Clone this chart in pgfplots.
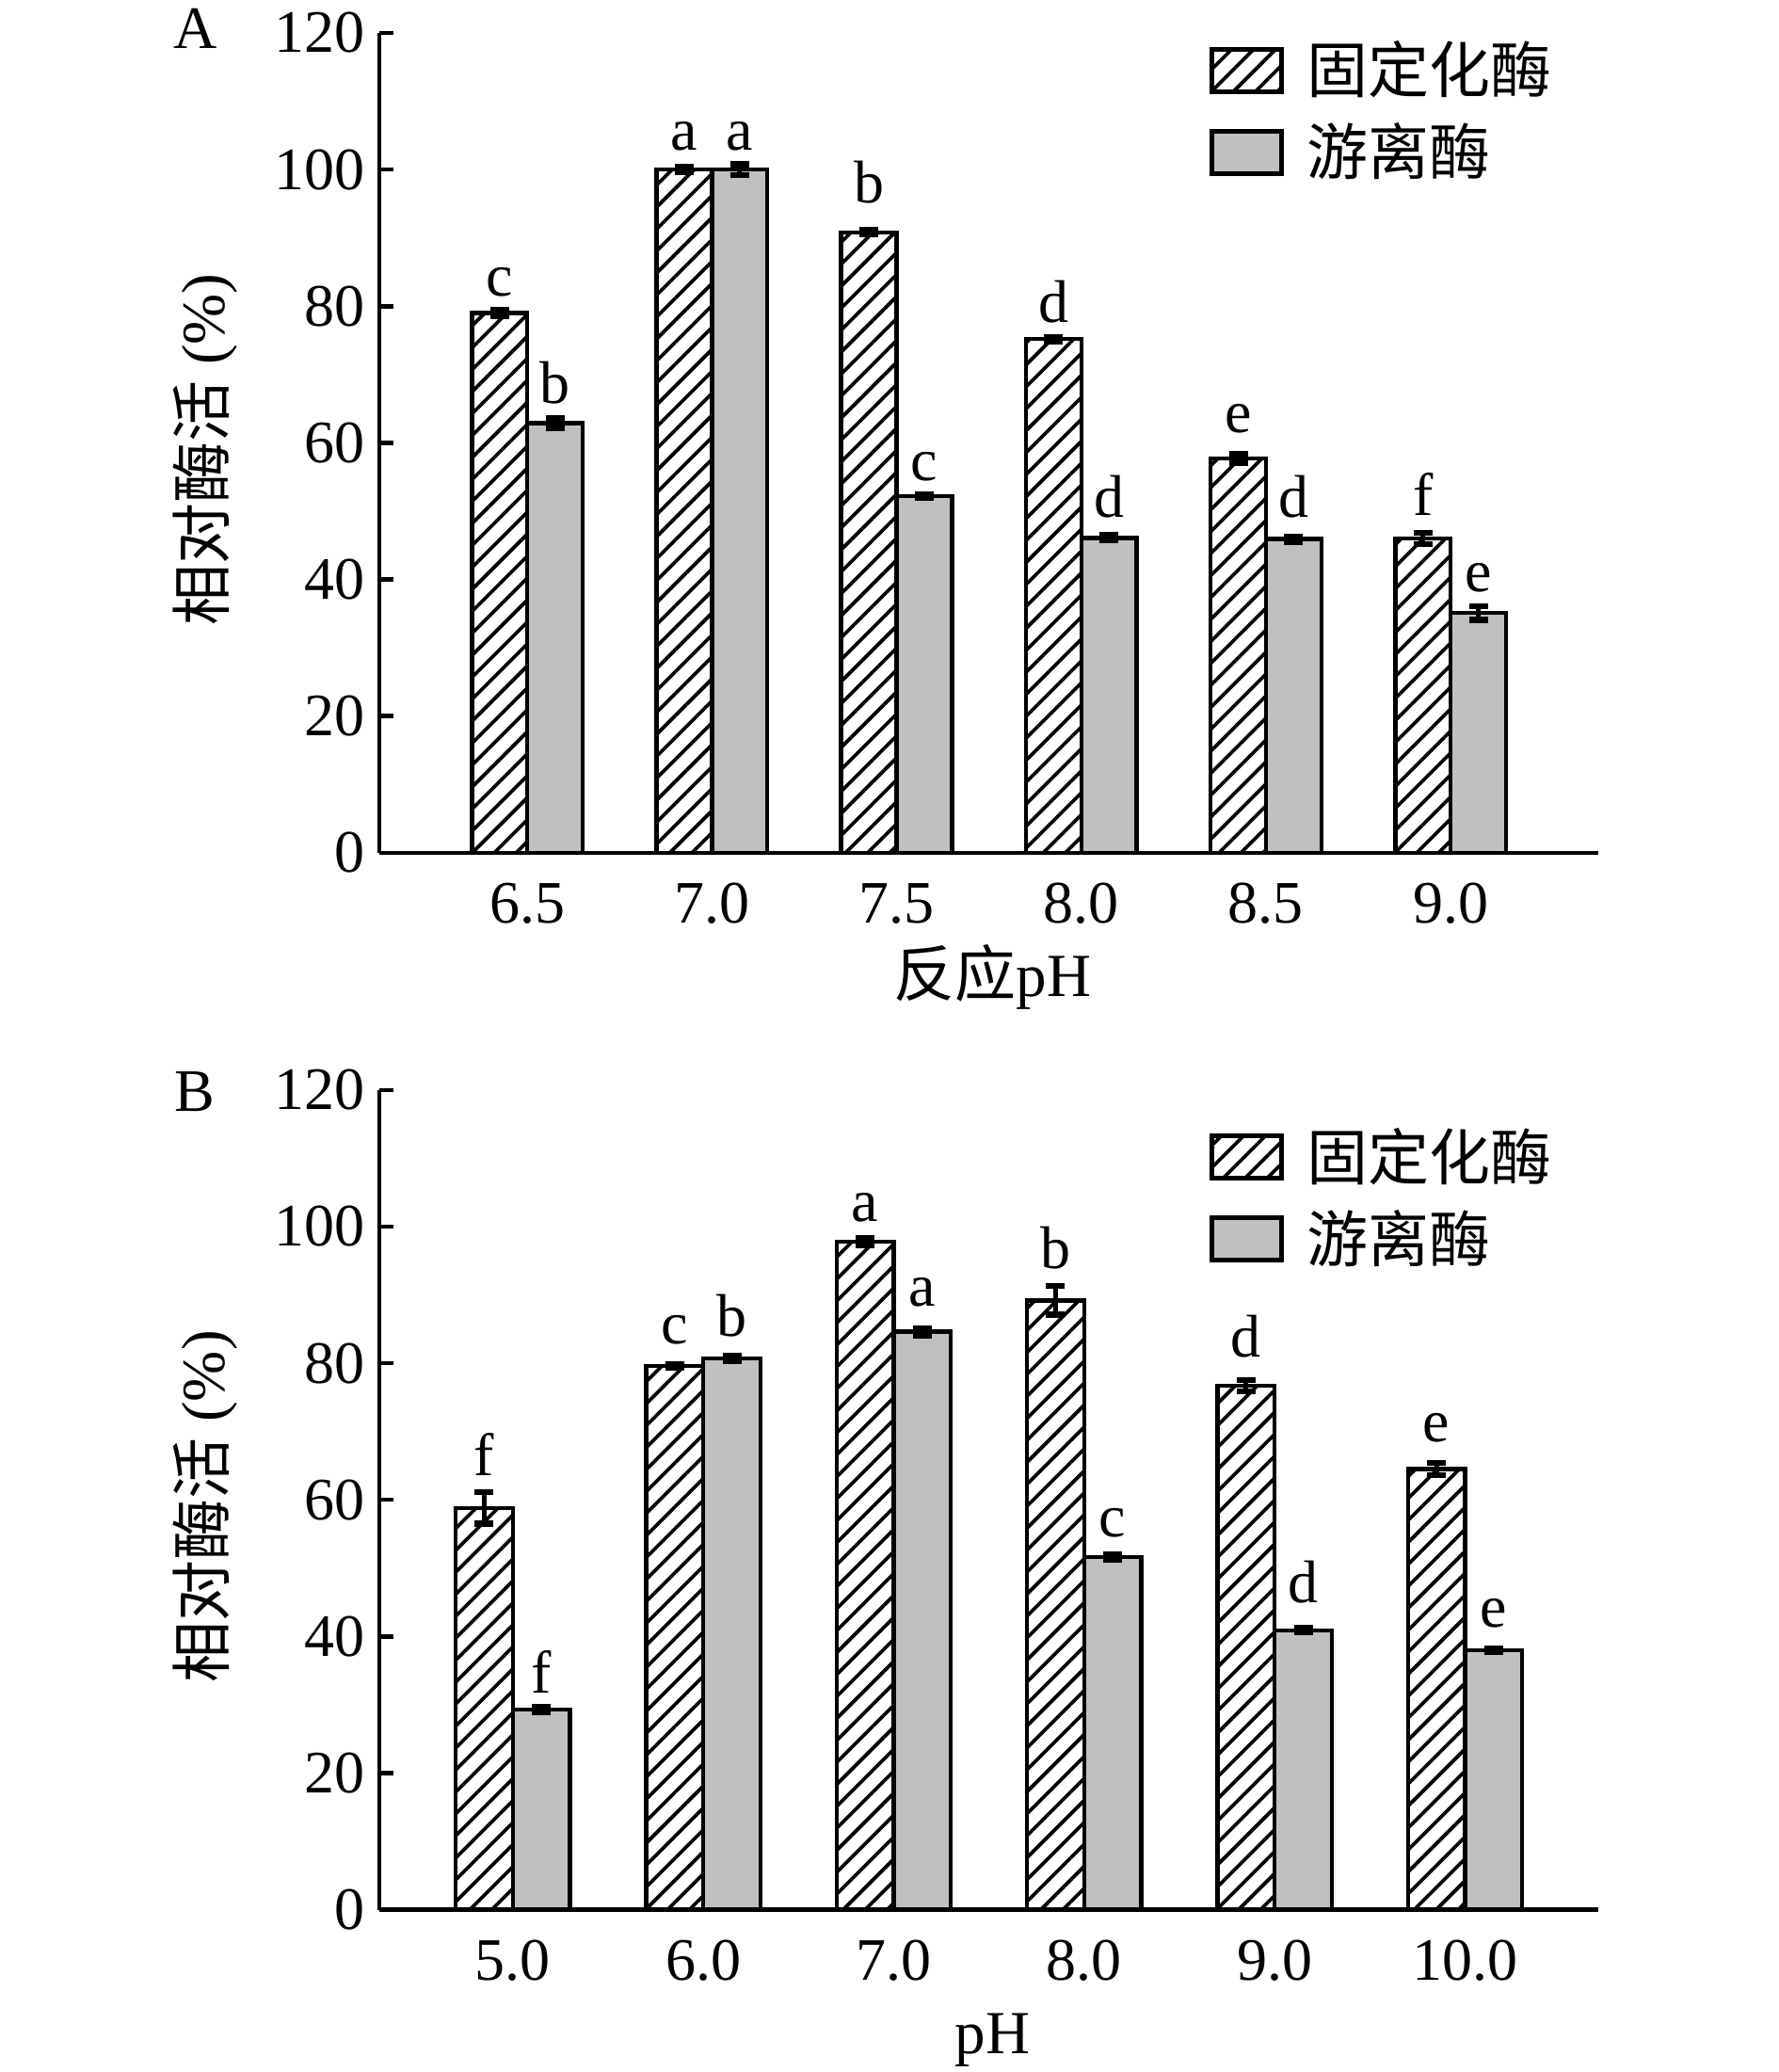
\documentclass[border=0pt]{standalone}
\usepackage{fontspec}
\setmainfont{Liberation Serif}
\newfontfamily\cjk{Noto Sans CJK SC}
\usepackage{pgfplots}
\usepackage{pgfplotstable}
\pgfplotsset{compat=1.18}
\usetikzlibrary{patterns.meta}
\definecolor{bargrey}{RGB}{192,192,192}

% columns: category index, mean, error, significance letter, letter baseline
% top panel: reaction pH
\pgfplotstableread{
x y e l ly
0 79.0 0.4 c 81.5
1 100.0 0.4 a 102.9
2 90.8 0.3 b 95.1
3 75.2 0.3 d 77.6
4 57.7 0.7 e 61.5
5 46.0 0.8 f 49.4
}\topimm
\pgfplotstableread{
x y e l ly
0 62.9 0.7 b 65.8
1 100.0 0.8 a 102.9
2 52.2 0.2 c 54.5
3 46.1 0.4 d 49.1
4 45.9 0.4 d 49.1
5 35.1 1.0 e 38.2
}\topfree
% bottom panel: pH stability
\pgfplotstableread{
x y e l ly
0 58.8 2.3 f 63.6
1 79.6 0.2 c 82.8
2 97.8 0.5 a 100.8
3 89.2 2.1 b 93.9
4 76.7 0.8 d 80.9
5 64.5 0.9 e 68.5
}\botimm
\pgfplotstableread{
x y e l ly
0 29.3 0.4 f 31.7
1 80.7 0.4 b 83.9
2 84.6 0.5 a 88.3
3 51.6 0.4 c 54.6
4 40.9 0.3 d 45.0
5 38.0 0.2 e 41.3
}\botfree

\pgfplotsset{
  panel/.style={
    width=259pt, height=174.16pt, scale only axis,
    clip=false,
    axis x line=bottom, axis y line=left,
    axis line style={-, line width=0.9pt, black},
    ymin=0, ymax=120, ytick={0,20,...,120},
    xtick={0,...,5},
    tick align=inside,
    major tick length=3pt,
    x tick style={draw=none},
    y tick style={line width=0.9pt, black},
    ticklabel style={font=\fontsize{12.8}{14}\selectfont},
    y tick label style={inner sep=3pt},
    x tick label style={anchor=base, yshift=-15pt},
    /pgf/number format/assume math mode=true,
    ylabel={{\cjk 相对酶活} (\%)},
    ylabel style={at={(axis description cs:-0.143,0.492)}, anchor=center, rotate=0,
      font=\fontsize{13}{15}\selectfont},
    xlabel style={at={(axis description cs:0.503,-0.175)}, anchor=base,
      font=\fontsize{13}{15}\selectfont},
    legend cell align=left,
    legend image code/.code={\draw[##1,/tikz/.cd, line width=1pt] (0pt,-4.2pt) rectangle (14.8pt,4.8pt);},
    legend style={draw=none, fill=none, inner sep=0pt, row sep=4.4pt, column sep=5pt,
      font=\cjk\fontsize{13}{15}\selectfont,
      nodes={inner sep=0pt, text height=11pt, text depth=2pt}},
  },
  imm/.style={ybar, bar width=0.3, bar shift=0pt, draw=black, line width=0.9pt,
    pattern={Lines[angle=45, distance=3.3pt, line width=0.75pt]},
    error bars/y dir=both, error bars/y explicit,
    error bars/error bar style={line width=1pt, black, solid},
    error bars/error mark options={rotate=90, mark size=2pt, line width=1.3pt, black}},
  free/.style={ybar, bar width=0.3, bar shift=0pt, draw=black, line width=0.9pt,
    fill=bargrey,
    error bars/y dir=both, error bars/y explicit,
    error bars/error bar style={line width=1pt, black, solid},
    error bars/error mark options={rotate=90, mark size=2pt, line width=1.3pt, black}},
  letters/.style={forget plot, only marks, mark=*, mark size=0pt,
    mark options={draw=none, fill=none},
    nodes near coords, point meta=explicit symbolic,
    every node near coord/.style={anchor=base, inner sep=0pt, black,
      font=\fontsize{12.8}{14}\selectfont}},
}

\begin{document}
\begin{tikzpicture}
\useasboundingbox (-80.64pt,-259.04pt) rectangle (297.36pt,181.16pt);

\begin{axis}[panel, at={(0pt,0pt)}, anchor=south west,
  xmin=-0.8, xmax=5.8,
  xticklabels={6.5,7.0,7.5,8.0,8.5,9.0},
  xlabel={{\cjk 反应}pH},
  legend style={at={(axis description cs:0.680,0.991)}, anchor=north west}]
\addplot[imm] table[x expr=\thisrow{x}-0.15, y=y, y error=e] {\topimm};
\addlegendentry{固定化酶}
\addplot[free] table[x expr=\thisrow{x}+0.15, y=y, y error=e] {\topfree};
\addlegendentry{游离酶}
\addplot[letters] table[x expr=\thisrow{x}-0.15, y=ly, meta=l] {\topimm};
\addplot[letters] table[x expr=\thisrow{x}+0.15, y=ly, meta=l] {\topfree};
\node[font=\fontsize{12.8}{14}\selectfont, anchor=center] at (axis description cs:-0.151,1.005) {A};
\end{axis}

\begin{axis}[panel, at={(0pt,-224.56pt)}, anchor=south west,
  xmin=-0.7, xmax=5.7,
  xticklabels={5.0,6.0,7.0,8.0,9.0,10.0},
  xlabel={pH},
  legend style={at={(axis description cs:0.680,0.955)}, anchor=north west}]
\addplot[imm] table[x expr=\thisrow{x}-0.15, y=y, y error=e] {\botimm};
\addlegendentry{固定化酶}
\addplot[free] table[x expr=\thisrow{x}+0.15, y=y, y error=e] {\botfree};
\addlegendentry{游离酶}
\addplot[letters] table[x expr=\thisrow{x}-0.15, y=ly, meta=l] {\botimm};
\addplot[letters] table[x expr=\thisrow{x}+0.15, y=ly, meta=l] {\botfree};
\node[font=\fontsize{12.8}{14}\selectfont, anchor=center] at (axis description cs:-0.152,0.998) {B};
\end{axis}
\end{tikzpicture}
\end{document}
